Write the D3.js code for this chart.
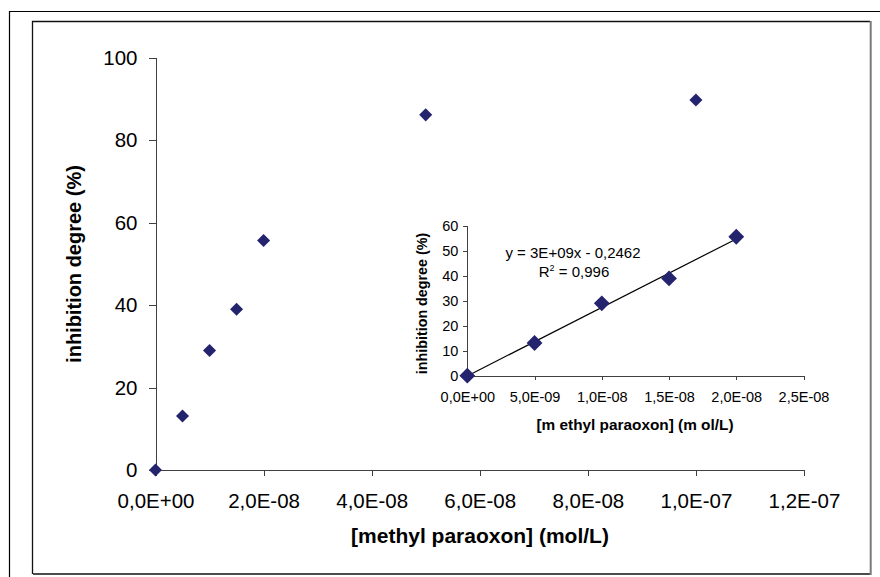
<!DOCTYPE html>
<html lang="en">
  <head>
    <meta charset="utf-8">
    <title>Inhibition degree vs methyl paraoxon</title>
    <script type="text/javascript" src="https://cdnjs.cloudflare.com/ajax/libs/d3/7.8.5/d3.min.js"></script>
    <style>
    body { margin: 0; background: #fff; }
    svg text { font-family: Arial, "Liberation Sans", sans-serif; fill: #000; }
    .axis path, .axis line { stroke: #404040; stroke-width: 1; shape-rendering: crispEdges; }
    </style>
  </head>
  <body>
    <div id="vis"></div>
    <script type="text/javascript">

      // main chart data
      var concentration = [0, 5e-9, 1e-8, 1.5e-8, 2e-8, 5e-8, 1e-7];
      var inhibition    = [0, 13.1, 29.0, 39.0, 55.7, 86.2, 89.8];

      // inset (linear range)
      var insetConc  = [0, 5e-9, 1e-8, 1.5e-8, 2e-8];
      var insetInhib = [0, 13.1, 29.0, 39.0, 55.7];

      var xTicks      = [0, 2e-8, 4e-8, 6e-8, 8e-8, 1e-7, 1.2e-7];
      var yTicks      = [0, 20, 40, 60, 80, 100];
      var insetXTicks = [0, 5e-9, 1e-8, 1.5e-8, 2e-8, 2.5e-8];
      var insetYTicks = [0, 10, 20, 30, 40, 50, 60];

      var equationText = "y = 3E+09x - 0,2462";
      var r2Value = "0,996";

      var markerColor = "#24246e";

      // Excel style scientific format, comma decimal
      function sci(v) {
        if (v === 0) return "0,0E+00";
        var e = Math.floor(Math.log10(v) + 1e-9);
        var m = (v / Math.pow(10, e)).toFixed(1).replace(".", ",");
        var s = e < 0 ? "-" : "+";
        var a = Math.abs(e);
        return m + "E" + s + (a < 10 ? "0" + a : a);
      }

      var svg = d3.select("#vis").append("svg")
          .attr("width", 880)
          .attr("height", 577);

      // frames
      svg.append("path")
          .attr("d", "M9.5,577 L9.5,11.5 L880,11.5")
          .attr("fill", "none")
          .attr("stroke", "#000")
          .attr("stroke-width", 1.2);
      svg.append("path")
          .attr("d", "M32.5,574 L32.5,21.5 L870,21.5")
          .attr("fill", "none")
          .attr("stroke", "#111")
          .attr("stroke-width", 1.3);
      svg.append("line")
          .attr("x1", 33).attr("x2", 870)
          .attr("y1", 574).attr("y2", 574)
          .attr("stroke", "#111").attr("stroke-width", 1.3);
      svg.append("line")
          .attr("x1", 870.7).attr("x2", 870.7)
          .attr("y1", 21).attr("y2", 575)
          .attr("stroke", "#7a7a7a").attr("stroke-width", 2);

      // ---------- main chart ----------
      var x = d3.scaleLinear().domain([0, 1.2e-7]).range([155.5, 804]);
      var y = d3.scaleLinear().domain([0, 100]).range([470, 58]);

      var xAxis = d3.axisBottom(x).tickValues(xTicks).tickFormat(sci).tickSizeOuter(0).tickSize(6).tickPadding(11);
      var yAxis = d3.axisLeft(y).tickValues(yTicks).tickSizeOuter(0).tickSize(7).tickPadding(11);

      var gx = svg.append("g")
          .attr("class", "axis")
          .attr("transform", "translate(0,470)")
          .call(xAxis);
      gx.selectAll("text").attr("font-size", 20.5).attr("dy", "0.71em").attr("y", 23);
      gx.select(".domain").attr("d", "M" + x(0) + ",0.5H" + x(1.2e-7));

      var gy = svg.append("g")
          .attr("class", "axis")
          .attr("transform", "translate(155.5,0)")
          .call(yAxis);
      gy.selectAll("text").attr("font-size", 20.5);
      gy.select(".domain").attr("d", "M0.5," + y(100) + "V" + y(0));

      svg.append("text")
          .attr("x", 480)
          .attr("y", 543)
          .attr("text-anchor", "middle")
          .attr("font-size", 21)
          .attr("font-weight", "bold")
          .text("[methyl paraoxon] (mol/L)");

      svg.append("text")
          .attr("transform", "translate(81,264) rotate(-90)")
          .attr("text-anchor", "middle")
          .attr("font-size", 20)
          .attr("font-weight", "bold")
          .text("inhibition degree (%)");

      var diamond = d3.symbol().type(d3.symbolSquare).size(85);
      svg.append("g").selectAll("path")
          .data(concentration)
          .enter().append("path")
            .attr("d", diamond)
            .attr("transform", function(d, i) { return "translate(" + x(d) + "," + y(inhibition[i]) + ") rotate(45)"; })
            .attr("fill", markerColor);

      // ---------- inset ----------
      var ix = d3.scaleLinear().domain([0, 2.5e-8]).range([467.3, 803.5]);
      var iy = d3.scaleLinear().domain([0, 60]).range([375.7, 226]);

      var ixAxis = d3.axisBottom(ix).tickValues(insetXTicks).tickFormat(sci).tickSizeOuter(0).tickSize(4).tickPadding(8);
      var iyAxis = d3.axisLeft(iy).tickValues(insetYTicks).tickSizeOuter(0).tickSize(4).tickPadding(5);

      var igx = svg.append("g")
          .attr("class", "axis")
          .attr("transform", "translate(0,375.7)")
          .call(ixAxis);
      igx.selectAll("text").attr("font-size", 14.5).attr("y", 16);
      igx.select(".domain").attr("d", "M" + ix(0) + ",0.5H" + ix(2.5e-8));

      var igy = svg.append("g")
          .attr("class", "axis")
          .attr("transform", "translate(467.3,0)")
          .call(iyAxis);
      igy.selectAll("text").attr("font-size", 14.5);
      igy.select(".domain").attr("d", "M0.5," + iy(60) + "V" + iy(0));

      svg.append("text")
          .attr("x", 635)
          .attr("y", 429.5)
          .attr("text-anchor", "middle")
          .attr("font-size", 14.5)
          .attr("font-weight", "bold")
          .attr("textLength", 197)
          .attr("lengthAdjust", "spacingAndGlyphs")
          .text("[m ethyl paraoxon] (m ol/L)");

      svg.append("text")
          .attr("transform", "translate(426.5,303.5) rotate(-90)")
          .attr("text-anchor", "middle")
          .attr("font-size", 14.3)
          .attr("font-weight", "bold")
          .text("inhibition degree (%)");

      // least squares trend line through the inset points
      var mx = d3.mean(insetConc), my = d3.mean(insetInhib);
      var sxy = d3.sum(insetConc, function(d, i) { return (d - mx) * (insetInhib[i] - my); });
      var sxx = d3.sum(insetConc, function(d) { return (d - mx) * (d - mx); });
      var slope = sxy / sxx, intercept = my - slope * mx;
      var xEnds = d3.extent(insetConc);

      svg.append("line")
          .attr("x1", ix(xEnds[0])).attr("y1", iy(slope * xEnds[0] + intercept))
          .attr("x2", ix(xEnds[1])).attr("y2", iy(slope * xEnds[1] + intercept))
          .attr("stroke", "#000")
          .attr("stroke-width", 1.2);

      var bigDiamond = d3.symbol().type(d3.symbolSquare).size(125);
      svg.append("g").selectAll("path")
          .data(insetConc)
          .enter().append("path")
            .attr("d", bigDiamond)
            .attr("transform", function(d, i) { return "translate(" + ix(d) + "," + iy(insetInhib[i]) + ") rotate(45)"; })
            .attr("fill", markerColor);

      svg.append("text")
          .attr("x", 573)
          .attr("y", 258)
          .attr("text-anchor", "middle")
          .attr("font-size", 15)
          .text(equationText);

      var r2 = svg.append("text")
          .attr("x", 574)
          .attr("y", 277)
          .attr("text-anchor", "middle")
          .attr("font-size", 15);
      r2.append("tspan").text("R");
      r2.append("tspan").attr("font-size", 9).attr("dy", -6).text("2");
      r2.append("tspan").attr("dy", 6).text(" = " + r2Value);

    </script>
  </body>
</html>
